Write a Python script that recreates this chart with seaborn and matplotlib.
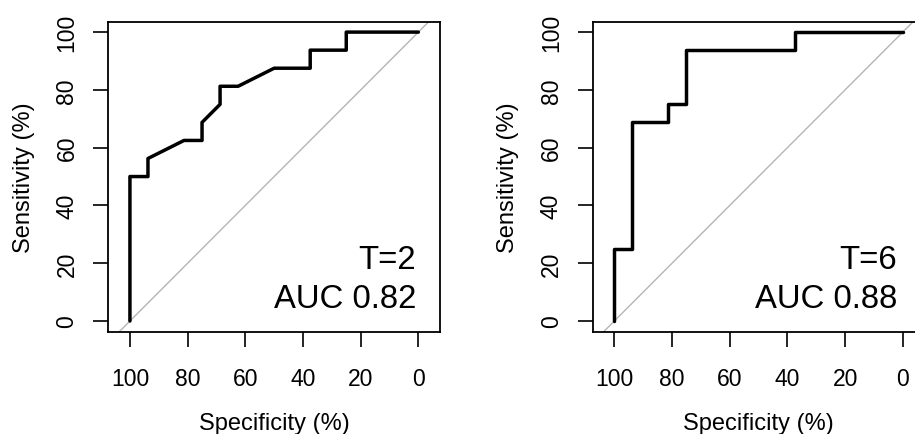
import matplotlib
matplotlib.use("Agg")
import matplotlib.pyplot as plt
import seaborn as sns
import pandas as pd

# ROC curve points (specificity %, sensitivity %)
spec_t2 = [100, 100, 93.75, 93.75, 81.25, 75, 75, 68.75, 68.75, 62.5, 50, 37.5, 37.5, 25, 25, 0]
sens_t2 = [0, 50, 50, 56.25, 62.5, 62.5, 68.75, 75, 81.25, 81.25, 87.5, 87.5, 93.75, 93.75, 100, 100]

spec_t6 = [100, 100, 93.75, 93.75, 81.25, 81.25, 75, 75, 37.5, 37.5, 0]
sens_t6 = [0, 25, 25, 68.75, 68.75, 75, 75, 93.75, 93.75, 100, 100]

panel_labels = ["T=2", "T=6"]
auc_labels = ["AUC 0.82", "AUC 0.88"]
tick_values = [100, 80, 60, 40, 20, 0]

sns.set_style("ticks")
plt.rcParams["font.family"] = ["Liberation Sans", "DejaVu Sans"]

fig = plt.figure(figsize=(9.15, 4.35), dpi=100)
W, H = 915, 435


def make_axes(left_px):
    # square-ish plot box, same size for both panels
    return fig.add_axes([left_px / W, (H - 332.7) / H, 331.7 / W, 310 / H])


panels = [
    (make_axes(108.3), spec_t2, sens_t2, 0.8),
    (make_axes(592.7), spec_t6, sens_t6, 2.0),
]

for i, (ax, spec, sens, tx) in enumerate(panels):
    df = pd.DataFrame({"spec": spec, "sens": sens})
    # chance diagonal
    ax.axline((100, 0), (0, 100), color="#b5b5b5", lw=1.0, zorder=1)
    sns.lineplot(data=df, x="spec", y="sens", sort=False, estimator=None,
                 color="black", lw=2.5, ax=ax, zorder=3)

    ax.set_xlim(107.5, -7.5)
    ax.set_ylim(-3.7, 103.6)
    ax.set_xticks(tick_values)
    ax.set_yticks(tick_values)
    ax.set_xticklabels([str(v) for v in tick_values])
    ax.set_yticklabels([str(v) for v in tick_values], rotation=90, va="center")

    for sp in ax.spines.values():
        sp.set_visible(True)
        sp.set_color("black")
        sp.set_linewidth(1.3)
    ax.tick_params(axis="both", length=10.5, width=1.2, color="black",
                   labelsize=16.5, labelcolor="black")
    ax.tick_params(axis="x", pad=15)
    ax.tick_params(axis="y", pad=11)

    ax.set_xlabel("Specificity (%)", fontsize=17, color="black")
    ax.set_ylabel("Sensitivity (%)", fontsize=17, color="black")
    ax.xaxis.set_label_coords(0.5, -0.314)
    ax.xaxis.label.set_va("baseline")
    ax.yaxis.set_label_coords(-0.221, 0.5)

    ax.text(tx, 18.2, panel_labels[i], ha="right", va="baseline",
            fontsize=23.7, color="black")
    ax.text(tx, 4.7, auc_labels[i], ha="right", va="baseline",
            fontsize=23.7, color="black")

fig.savefig("out.png", dpi=100)
